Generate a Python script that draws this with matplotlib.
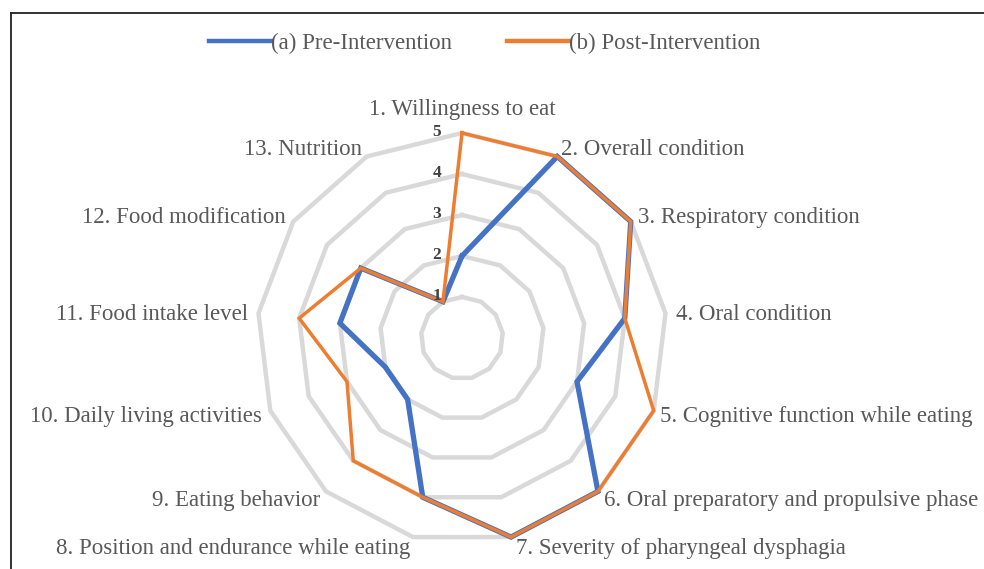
import numpy as np
import matplotlib
matplotlib.use("Agg")
import matplotlib.pyplot as plt
from matplotlib.lines import Line2D

categories = [
    "1. Willingness to eat",
    "2. Overall condition",
    "3. Respiratory condition",
    "4. Oral condition",
    "5. Cognitive function while eating",
    "6. Oral preparatory and propulsive phase",
    "7. Severity of pharyngeal dysphagia",
    "8. Position and endurance while eating",
    "9. Eating behavior",
    "10. Daily living activities",
    "11. Food intake level",
    "12. Food modification",
    "13. Nutrition",
]
pre_values = [2, 5, 5, 4, 3, 5, 5, 4, 2, 2, 3, 3, 1]
post_values = [5, 5, 5, 4, 5, 5, 5, 4, 4, 3, 4, 3, 1]
series_names = ["(a) Pre-Intervention", "(b) Post-Intervention"]
ring_levels = [1, 2, 3, 4, 5]
tick_labels = ["1", "2", "3", "4", "5"]

plt.rcParams["font.family"] = ["Liberation Serif", "DejaVu Serif"]
TEXT = "#595959"
BLUE = "#4472C4"
ORANGE = "#ED7D31"
GRID = "#D9D9D9"

W, H = 984, 569
fig = plt.figure(figsize=(W / 100, H / 100), dpi=100)
cx, cy, R = 462, 338, 205
ax = fig.add_axes([(cx - R) / W, (H - cy - R) / H, 2 * R / W, 2 * R / H], projection="polar")
ax.set_theta_zero_location("N")
ax.set_theta_direction(-1)
ax.set_ylim(0, 5)
ax.grid(False)
ax.spines["polar"].set_visible(False)
ax.set_xticks([])
ax.set_yticks([])
ax.patch.set_alpha(0)

n = len(categories)
theta = np.arange(n) * 2 * np.pi / n
theta_c = np.append(theta, theta[0])

for lv in ring_levels:
    ax.plot(theta_c, [lv] * (n + 1), color=GRID, lw=3.2, clip_on=False, zorder=1,
            solid_joinstyle="miter")

ax.plot(theta_c, pre_values + pre_values[:1], color=BLUE, lw=3.8, clip_on=False, zorder=3,
        solid_joinstyle="miter", label=series_names[0])
ax.plot(theta_c, post_values + post_values[:1], color=ORANGE, lw=2.5, clip_on=False, zorder=4,
        solid_joinstyle="miter", label=series_names[1])

# tick labels
for lv, tl in zip(ring_levels, tick_labels):
    ax.annotate(tl, xy=(0, lv), xytext=(-25, 1), textcoords="offset pixels",
                ha="center", va="center", fontsize=12.5, fontweight="bold", color="#404040",
                zorder=5, annotation_clip=False)

# category labels
offsets = [(0, 23), (4, 7), (7, 4), (10, -1), (6, -6), (6, -9), (5, -11),
           (-3, -11), (-6, -9), (-8, -6), (-10, -1), (-8, 4), (-5, 7)]
for k, (lab, off) in enumerate(zip(categories, offsets)):
    if k == 0:
        ha = "center"
    elif k <= 6:
        ha = "left"
    else:
        ha = "right"
    ax.annotate(lab, xy=(theta[k], 5), xytext=off, textcoords="offset pixels",
                ha=ha, va="center", fontsize=16.5, color=TEXT, annotation_clip=False)

leg = fig.legend(loc="center", bbox_to_anchor=(485 / W, 1 - 43 / H), ncol=2, frameon=False,
                 handlelength=2.7, handletextpad=0.0, columnspacing=2.4, fontsize=16.5)
for t in leg.get_texts():
    t.set_color(TEXT)
for h in leg.legend_handles:
    h.set_linewidth(3.2)

# border lines (top and left)
fig.add_artist(Line2D([11 / W, 11 / W], [0, 1 - 13 / H], transform=fig.transFigure, color="#222222", lw=1.3))
fig.add_artist(Line2D([11 / W, 1], [1 - 13 / H, 1 - 13 / H], transform=fig.transFigure, color="#222222", lw=1.3))

fig.savefig("out.png", dpi=100)
